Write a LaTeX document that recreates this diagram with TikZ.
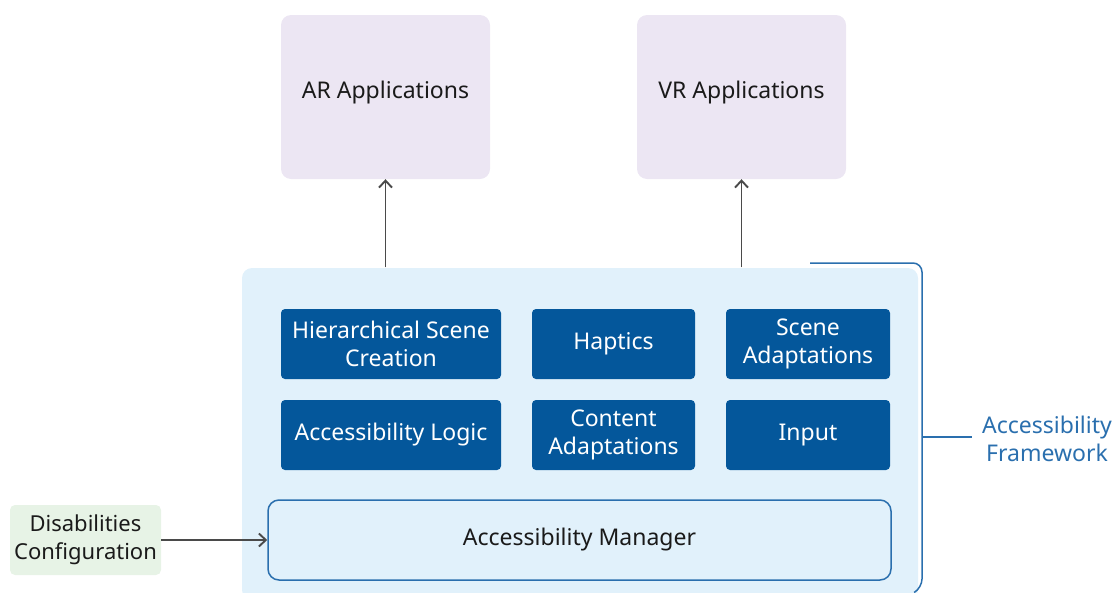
\documentclass[tikz,border=0pt]{standalone}
\usepackage{fontspec}
\setmainfont{Noto Sans}
\usetikzlibrary{arrows.meta}
\definecolor{appfill}{HTML}{ECE6F3}
\definecolor{fwfill}{HTML}{E1F1FB}
\definecolor{modfill}{HTML}{04579B}
\definecolor{fwline}{HTML}{2A6FAE}
\definecolor{cfgfill}{HTML}{E7F3E6}
\definecolor{arrowc}{HTML}{4A4A4A}
\definecolor{txt}{HTML}{1A1A1A}
\tikzset{
  app/.style={fill=appfill, rounded corners=10pt, minimum width=209pt, minimum height=164pt, text=txt, text height=16pt, text depth=14pt, font=\fontsize{23}{28}\selectfont},
  module/.style={fill=modfill, rounded corners=4pt, minimum height=70pt, text=white, align=center, font=\fontsize{23}{28}\selectfont},
  conn/.style={draw=arrowc, line width=1.9pt, -{Straight Barb[length=7pt,width=13pt]}},
}
\begin{document}
\begin{tikzpicture}[x=1pt,y=-1pt]
\useasboundingbox (0,0) rectangle (1119,592);
% application layer
\node[app] (ar) at (385.5,97) {AR Applications};
\node[app] (vr) at (741.5,97) {VR Applications};
% framework container
\path[fill=fwfill, rounded corners=10pt] (242,268) rectangle (918,600);
\node[inner sep=0, minimum width=676pt, minimum height=1pt] (fwtop) at (580,268) {};
% bracket marking the framework
\draw[fwline, line width=1.5pt, rounded corners=9pt] (810,263) -- (922,263) -- (922,588) -- (915,592);
\coordinate (tick) at (922,437);
\node[text=fwline, align=center, font=\fontsize{23}{28}\selectfont] (fwlabel) at (1047,439) {Accessibility\\Framework};
\draw[fwline, line width=1.5pt] (tick) -- (972,437);
% modules
\node[module, minimum width=220pt] (hsc) at (391,344) {Hierarchical Scene\\Creation};
\node[module, minimum width=163pt] (hap) at (613.5,344) {Haptics};
\node[module, minimum width=164pt] (sa)  at (808,344) {Scene\\Adaptations};
\node[module, minimum width=220pt] (al)  at (391,435) {Accessibility Logic};
\node[module, minimum width=163pt] (ca)  at (613.5,435) {Content\\Adaptations};
\node[module, minimum width=164pt] (inp) at (808,435) {Input};
% manager
\node[draw=fwline, line width=1.5pt, fill=fwfill, rounded corners=11pt, minimum width=623pt, minimum height=80pt, text=txt, font=\fontsize{23}{28}\selectfont] (mgr) at (579.5,540) {Accessibility Manager};
% configuration input
\node[fill=cfgfill, rounded corners=5pt, inner xsep=0pt, minimum width=151pt, minimum height=70pt, align=center, text=txt, font=\fontsize{22}{28}\selectfont] (cfg) at (85.5,540) {Disabilities\\Configuration};
% connectors
\draw[conn] (cfg.east) -- (mgr.west);
\draw[conn] (fwtop.north -| ar.south) -- (ar.south);
\draw[conn] (fwtop.north -| vr.south) -- (vr.south);
\end{tikzpicture}
\end{document}
